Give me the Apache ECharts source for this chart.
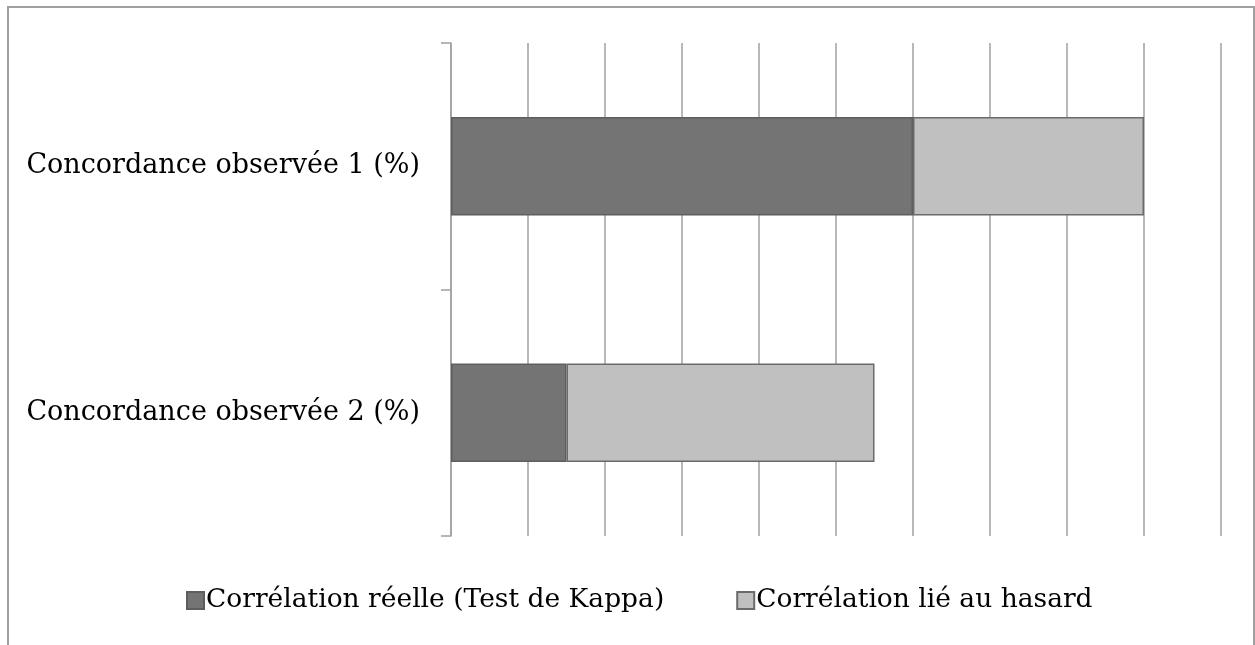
<!DOCTYPE html>
<html>
<head>
<meta charset="utf-8">
<script src="https://cdn.jsdelivr.net/npm/echarts@6/dist/echarts.min.js"></script>
<style>
  html, body { margin: 0; padding: 0; background: #fff; }
  #chart { width: 1255px; height: 645px; }
</style>
</head>
<body>
<div id="chart"></div>
<script>
// categories (top to bottom)
var categories = ['Concordance observée 1 (%)', 'Concordance observée 2 (%)']
// series values (percent: 10 per step)
var kappaValues = [60, 15]
var hasardValues = [30, 40]
var seriesNames = ['Corrélation réelle (Test de Kappa)', 'Corrélation lié au hasard']

var fontFam = '"DejaVu Serif", "Liberation Serif", serif'

var chart = echarts.init(document.getElementById('chart'))
chart.setOption({
  animation: false,
  textStyle: { fontFamily: fontFam },
  graphic: [{
    type: 'rect',
    shape: { x: 8, y: 7, width: 1246, height: 700 },
    style: { fill: 'none', stroke: '#a0a0a0', lineWidth: 2 },
    silent: true
  }],
  grid: {
    left: 451,
    right: 34,
    top: 43,
    bottom: 109
  },
  legend: {
    left: 186,
    top: 587,
    padding: 0,
    icon: 'rect',
    itemWidth: 17,
    itemHeight: 17,
    itemGap: 72,
    textStyle: { fontFamily: fontFam, fontSize: 26.5, color: '#000', padding: [0, 0, 0, -3] },
    data: seriesNames
  },
  xAxis: {
    type: 'value',
    min: 0,
    max: 100,
    interval: 10,
    axisLine: { show: false },
    axisTick: { show: false },
    axisLabel: { show: false },
    splitLine: { show: true, lineStyle: { color: '#a0a0a0', width: 1.5 } }
  },
  yAxis: {
    type: 'category',
    inverse: true,
    data: categories,
    axisLine: { show: true, lineStyle: { color: '#a0a0a0', width: 1.5 } },
    axisTick: { show: true, length: 10, lineStyle: { color: '#a0a0a0', width: 1.5 } },
    axisLabel: { fontFamily: fontFam, fontSize: 27, color: '#000', margin: 31, padding: [6, 0, 0, 0] }
  },
  series: [{
    name: seriesNames[0],
    type: 'bar',
    stack: 'total',
    barWidth: '40%',
    data: kappaValues,
    itemStyle: { color: '#747474', borderColor: '#5e5e5e', borderWidth: 1.5 }
  }, {
    name: seriesNames[1],
    type: 'bar',
    stack: 'total',
    barWidth: '40%',
    data: hasardValues,
    itemStyle: { color: '#c0c0c0', borderColor: '#6a6a6a', borderWidth: 1.5 }
  }]
})
</script>
</body>
</html>
